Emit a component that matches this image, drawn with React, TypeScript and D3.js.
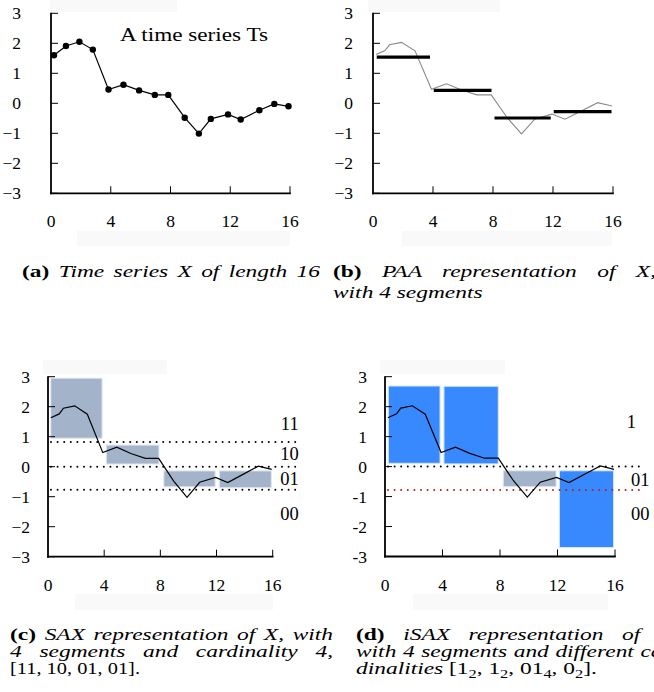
import React, { useRef, useLayoutEffect } from 'react';
import * as d3 from 'd3';

// ---------- data ----------
const xTicks = [0, 4, 8, 12, 16];
const yTicks = [3, 2, 1, 0, -1, -2, -3];
const yLabelsMinus = ['3', '2', '1', '0', '−1', '−2', '−3'];
const yLabelsHyphen = ['3', '2', '1', '0', '-1', '-2', '-3'];

// panel (a) sampled points
const dotX = [0.2, 1.0, 1.9, 2.8, 3.85, 4.85, 5.9, 6.95, 7.85, 8.95, 9.9, 10.7, 11.85, 12.7, 13.95, 14.95, 15.9];
const dotY = [1.6, 1.91, 2.05, 1.79, 0.46, 0.62, 0.43, 0.28, 0.28, -0.48, -1.01, -0.52, -0.37, -0.54, -0.23, -0.02, -0.1];

// series line used in panels (b)-(d)
const lineX = [0.2, 0.8, 1.1, 1.9, 2.8, 3.9, 4.9, 5.9, 6.93, 7.88, 8.95, 9.9, 10.8, 11.93, 12.8, 13.95, 14.98, 15.93];
const lineY = [1.63, 1.76, 1.95, 2.03, 1.75, 0.47, 0.65, 0.44, 0.28, 0.28, -0.48, -1.02, -0.52, -0.36, -0.53, -0.24, 0.02, -0.09];

// PAA segments (b)
const paaX0 = [0.25, 4.05, 8.1, 12.05];
const paaX1 = [3.8, 7.9, 11.85, 15.9];
const paaY = [1.54, 0.43, -0.49, -0.28];

// SAX boxes (c)
const saxX0 = [0.2, 4.15, 8.25, 12.2];
const saxX1 = [3.85, 7.9, 11.9, 15.9];
const saxTop = [2.95, 0.72, -0.14, -0.14];
const saxBottom = [0.95, 0.09, -0.67, -0.7];
const saxBreaks = [0.82, 0, -0.77];
const saxLabels = ['11', '10', '01', '00'];
const saxLabelY = [1.22, 0.22, -0.6, -1.78];

// iSAX boxes (d)
const isaxX0 = [0.23, 4.1, 8.23, 12.13];
const isaxX1 = [3.83, 7.88, 11.9, 15.9];
const isaxTop = [2.69, 2.68, -0.14, -0.14];
const isaxBottom = [0.11, 0.09, -0.67, -2.7];
const isaxKind = ['blue', 'blue', 'gray', 'blue'];
const isaxBreaks = [0, -0.78];
const isaxBreakKind = ['black', 'red'];
const isaxLabels = ['1', '01', '00'];
const isaxLabelY = [1.29, -0.64, -1.78];
const isaxLabelX = [17.46, 18.4, 18.4];

// ---------- styles ----------
const FONT = "'Liberation Serif', serif";
const NUM_SIZE = 17.5;
const CAP_SIZE = 16.5;
const CAP_K = 1.42; // horizontal widening of caption glyphs
const BOX_GRAY = '#a3b3c9';
const BOX_BLUE = '#3889fd';
const RED = '#b0201c';

type Sc = d3.ScaleLinear<number, number>;

function Axes({ x, y, labels, labelX }: { x: Sc; y: Sc; labels: string[]; labelX: number }) {
  const [x0, x1] = x.range();
  const [yb, yt] = y.range();
  return (
    <g>
      <line x1={x0} x2={x0} y1={yt - 0.5} y2={yb + 1} stroke="#000" strokeWidth={1.8} />
      <line x1={x0 - 1} x2={x1 + 0.8} y1={yb} y2={yb} stroke="#000" strokeWidth={1.8} />
      {yTicks.map((t) => (
        <line key={'yt' + t} x1={x0} x2={x0 + 7} y1={y(t)} y2={y(t)} stroke="#000" strokeWidth={1} />
      ))}
      {xTicks.filter((t) => t > 0).map((t) => (
        <line key={'xt' + t} x1={x(t)} x2={x(t)} y1={yb} y2={yb - 7} stroke="#000" strokeWidth={1} />
      ))}
      {yTicks.map((t, i) => (
        <text key={'yl' + t} x={labelX} y={y(t) + 6} textAnchor="end" fontFamily={FONT} fontSize={NUM_SIZE}>
          {labels[i]}
        </text>
      ))}
      {xTicks.map((t) => (
        <text key={'xl' + t} x={x(t)} y={yb + 34} textAnchor="middle" fontFamily={FONT} fontSize={NUM_SIZE}>
          {t}
        </text>
      ))}
    </g>
  );
}

// caption line: uniformly widened and optionally justified to `target` px
function CapLine({ x, y, target, len, italic = true, children }: {
  x: number; y: number; target?: number; len?: number; italic?: boolean; children: React.ReactNode;
}) {
  const ref = useRef<SVGTextElement>(null);
  useLayoutEffect(() => {
    const el = ref.current;
    if (!el || !target) return;
    el.style.wordSpacing = '0px';
    const w = el.getComputedTextLength();
    const n = ((el.textContent || '').match(/ /g) || []).length;
    if (n > 0) el.style.wordSpacing = Math.max(-1.5, (target / CAP_K - w) / n) + 'px';
  }, [target]);
  return (
    <text ref={ref} transform={`translate(${x},${y}) scale(${CAP_K},1)`} x={0} y={0}
      fontFamily={FONT} fontSize={CAP_SIZE} fontStyle={italic ? 'italic' : 'normal'}
      textLength={len ? len / CAP_K : undefined} lengthAdjust={len ? 'spacingAndGlyphs' : undefined}>
      {children}
    </text>
  );
}

export default function App() {
  // scales per panel
  const xa = d3.scaleLinear().domain([0, 16]).range([51, 290]);
  const ya = d3.scaleLinear().domain([-3, 3]).range([193.3, 13.3]);
  const xb = d3.scaleLinear().domain([0, 16]).range([373, 613]);
  const yb = d3.scaleLinear().domain([-3, 3]).range([193.3, 13.3]);
  const xc = d3.scaleLinear().domain([0, 16]).range([48, 272.7]);
  const yc = d3.scaleLinear().domain([-3, 3]).range([556.7, 376.7]);
  const xd = d3.scaleLinear().domain([0, 16]).range([385, 615]);
  const yd = d3.scaleLinear().domain([-3, 3]).range([556.5, 376.7]);

  const dots = dotX.map((v, i) => [v, dotY[i]] as [number, number]);
  const series = lineX.map((v, i) => [v, lineY[i]] as [number, number]);
  const lineA = d3.line<[number, number]>().x((d) => xa(d[0])).y((d) => ya(d[1]));
  const lineB = d3.line<[number, number]>().x((d) => xb(d[0])).y((d) => yb(d[1]));
  const lineC = d3.line<[number, number]>().x((d) => xc(d[0])).y((d) => yc(d[1]));
  const lineD = d3.line<[number, number]>().x((d) => xd(d[0])).y((d) => yd(d[1]));

  const faint = '#f9f9f9';
  const bold = (s: string) => <tspan fontWeight="bold" fontStyle="normal">{s}</tspan>;

  return (
    <svg width={654} height={692} viewBox="0 0 654 692" style={{ position: 'absolute', left: 0, top: 0, background: '#fff' }}>
      {/* faint scan artifacts */}
      <rect x={50} y={0} width={127} height={12} fill={faint} />
      <rect x={77} y={231} width={213} height={15} fill={faint} />
      <rect x={368} y={0} width={132} height={12} fill={faint} />
      <rect x={402} y={231} width={210} height={15} fill={faint} />
      <rect x={43} y={360} width={124} height={14} fill={faint} />
      <rect x={75} y={594} width={198} height={16} fill={faint} />
      <rect x={380} y={360} width={125} height={14} fill={faint} />
      <rect x={413} y={594} width={195} height={16} fill={faint} />

      {/* ---------- (a) ---------- */}
      <Axes x={xa} y={ya} labels={yLabelsMinus} labelX={21} />
      <path d={lineA(dots) || ''} fill="none" stroke="#000" strokeWidth={1.2} />
      {dots.map((d, i) => (
        <circle key={i} cx={xa(d[0])} cy={ya(d[1])} r={3.2} fill="#000" />
      ))}
      <text x={120} y={41} fontFamily={FONT} fontSize={18.5} textLength={148} lengthAdjust="spacingAndGlyphs">
        A time series Ts
      </text>

      {/* ---------- (b) ---------- */}
      <Axes x={xb} y={yb} labels={yLabelsMinus} labelX={353} />
      <path d={lineB(series) || ''} fill="none" stroke="#8a8a8a" strokeWidth={1.1} />
      {paaY.map((v, i) => (
        <line key={i} x1={xb(paaX0[i])} x2={xb(paaX1[i])} y1={yb(v)} y2={yb(v)} stroke="#000" strokeWidth={3.2} />
      ))}

      {/* ---------- (c) ---------- */}
      {saxTop.map((t, i) => (
        <rect key={i} x={xc(saxX0[i])} y={yc(t)} width={xc(saxX1[i]) - xc(saxX0[i])} height={yc(saxBottom[i]) - yc(t)}
          fill={BOX_GRAY} stroke="#dfe6ef" strokeWidth={1} />
      ))}
      {saxBreaks.map((b, i) => (
        <line key={i} x1={xc(0) + 3} x2={xc(18)} y1={yc(b)} y2={yc(b)} stroke="#000" strokeWidth={2}
          strokeDasharray="0 6.6" strokeLinecap="round" />
      ))}
      <Axes x={xc} y={yc} labels={yLabelsMinus} labelX={30} />
      <path d={lineC(series) || ''} fill="none" stroke="#000" strokeWidth={1.2} />
      {saxLabels.map((s, i) => (
        <text key={s} x={xc(17.85)} y={yc(saxLabelY[i])} textAnchor="end" fontFamily={FONT} fontSize={18.5}>
          {s}
        </text>
      ))}

      {/* ---------- (d) ---------- */}
      {isaxTop.map((t, i) => (
        <rect key={i} x={xd(isaxX0[i])} y={yd(t)} width={xd(isaxX1[i]) - xd(isaxX0[i])} height={yd(isaxBottom[i]) - yd(t)}
          fill={isaxKind[i] === 'blue' ? BOX_BLUE : BOX_GRAY} stroke={isaxKind[i] === 'blue' ? '#d6e6ff' : '#dfe6ef'} strokeWidth={1} />
      ))}
      {isaxBreaks.map((b, i) => (
        <line key={i} x1={xd(0) + 3} x2={xd(17.9)} y1={yd(b)} y2={yd(b)} stroke={isaxBreakKind[i] === 'red' ? RED : '#000'}
          strokeWidth={2} strokeDasharray="0 6.6" strokeLinecap="round" />
      ))}
      <Axes x={xd} y={yd} labels={yLabelsHyphen} labelX={367} />
      <path d={lineD(series) || ''} fill="none" stroke="#000" strokeWidth={1.2} />
      {isaxLabels.map((s, i) => (
        <text key={s} x={xd(isaxLabelX[i])} y={yd(isaxLabelY[i])} textAnchor="end" fontFamily={FONT} fontSize={18.5}>
          {s}
        </text>
      ))}

      {/* ---------- captions ---------- */}
      <CapLine x={22} y={277} target={298}>
        {bold('(a)')} Time series X of length 16
      </CapLine>
      <CapLine x={333} y={277} target={323}>
        {bold('(b)')} PAA representation of X,
      </CapLine>
      <CapLine x={333} y={298}>with 4 segments</CapLine>

      <CapLine x={10} y={640} target={323}>
        {bold('(c)')} SAX representation of X, with
      </CapLine>
      <CapLine x={10} y={657} target={323}>4 segments and cardinality 4,</CapLine>
      <CapLine x={10} y={674} italic={false} len={130}>[11, 10, 01, 01].</CapLine>

      <CapLine x={356} y={640} target={323}>
        {bold('(d)')} iSAX representation of X,
      </CapLine>
      <CapLine x={356} y={657} target={323}>with 4 segments and different car-</CapLine>
      <CapLine x={356} y={674} italic={false}>
        <tspan fontStyle="italic">dinalities</tspan> [1<tspan fontSize={11.5} dy={4}>2</tspan>
        <tspan dy={-4}>, 1</tspan><tspan fontSize={11.5} dy={4}>2</tspan>
        <tspan dy={-4}>, 01</tspan><tspan fontSize={11.5} dy={4}>4</tspan>
        <tspan dy={-4}>, 0</tspan><tspan fontSize={11.5} dy={4}>2</tspan>
        <tspan dy={-4}>].</tspan>
      </CapLine>
    </svg>
  );
}
